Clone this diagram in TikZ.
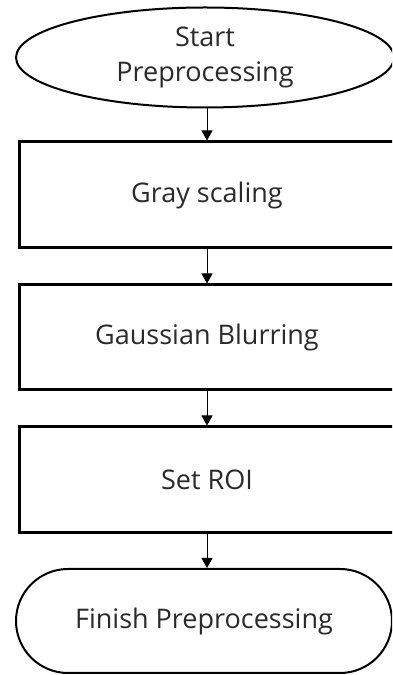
\documentclass[tikz,border=0pt]{standalone}
\usepackage{fontspec}
\setmainfont{Open Sans}
\usetikzlibrary{shapes.geometric,shapes.misc,arrows.meta}
\definecolor{txt}{HTML}{2A2A2A}
\tikzset{
  x=1pt,y=1pt,
  procbox/.style={draw, line width=3pt, rectangle, minimum width=376pt, inner sep=0pt, text=txt, font=\fontsize{27}{31}\selectfont},
  startshape/.style={draw, line width=2pt, ellipse, minimum width=378pt, minimum height=100pt, inner sep=0pt, text=txt, align=center, font=\fontsize{27}{35}\selectfont},
  endshape/.style={draw, line width=2pt, rounded rectangle, rounded rectangle arc length=180, minimum width=376pt, minimum height=104pt, inner sep=0pt, text=txt, font=\fontsize{27}{31}\selectfont},
  flow/.style={draw, line width=1pt, -{Triangle[length=10pt,width=11pt]}}
}
\begin{document}
\begin{tikzpicture}
\useasboundingbox (0,0) rectangle (392,675);
\clip (0,0) rectangle (392,675);
\node[startshape] (start) at (205,617.5) {Start\\Preprocessing};
\node[procbox, minimum height=106pt] (gray) at (207,480) {Gray scaling};
\node[procbox, minimum height=105pt] (blur) at (207,337.5) {Gaussian Blurring};
\node[procbox, minimum height=106pt] (roi) at (207,195) {Set ROI};
\node[endshape] (finish) at (204,54) {Finish Preprocessing};
\draw[flow] (gray.north |- start.south) -- (gray.north);
\draw[flow] (gray.south) -- (blur.north);
\draw[flow] (blur.south) -- (roi.north);
\draw[flow] (roi.south) -- (roi.south |- finish.north);
\end{tikzpicture}
\end{document}
